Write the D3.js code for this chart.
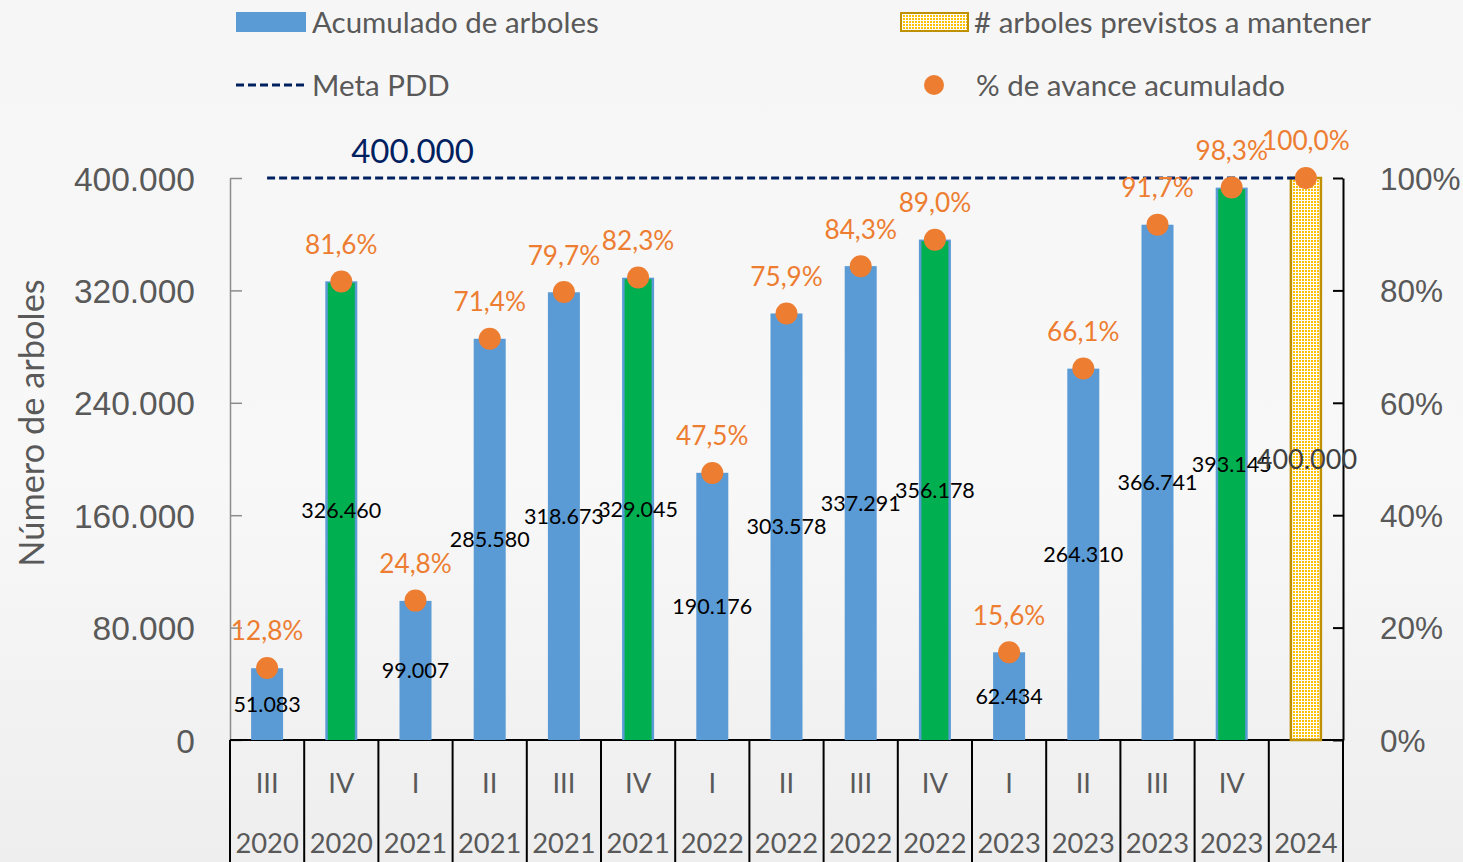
<!DOCTYPE html>
<html><head><meta charset="utf-8">
<script src="https://cdn.jsdelivr.net/npm/d3@7"></script>
<style>
html,body{margin:0;padding:0;background:#f4f4f4;}
svg{display:block;font-family:Lato,"Open Sans",sans-serif;}
</style></head>
<body>
<svg id="chart" width="1463" height="862"></svg>
<script>
// ---- data ----
const quarters = ["III","IV","I","II","III","IV","I","II","III","IV","I","II","III","IV",""];
const years = ["2020","2020","2021","2021","2021","2021","2022","2022","2022","2022","2023","2023","2023","2023","2024"];
const acumulado = [51083,326460,99007,285580,318673,329045,190176,303578,337291,356178,62434,264310,366741,393145,null];
const previstos = [null,null,null,null,null,null,null,null,null,null,null,null,null,null,400000];
const avance = [0.128,0.816,0.248,0.714,0.797,0.823,0.475,0.759,0.843,0.890,0.156,0.661,0.917,0.983,1.000];
const meta = [400000,400000,400000,400000,400000,400000,400000,400000,400000,400000,400000,400000,400000,400000,400000];
const leftTicks = [0,80000,160000,240000,320000,400000];
const rightTicks = [0,0.2,0.4,0.6,0.8,1.0];
const metaLabel = "400.000";
const metaLabelIndex = 2;
const legendLabels = ["Acumulado de arboles","# arboles previstos a mantener","Meta PDD","% de avance acumulado"];
const yTitle = "Número de arboles";

// ---- style ----
const C = {blue:"#5B9BD5", green:"#00B050", orange:"#ED7D31", navy:"#002060", gold:"#BF9000", yellow:"#FFC000", text:"#595959"};
const svg = d3.select("#chart");
const W = 1463, H = 862;
const plot = {left:230, right:1343, top:178, bottom:740};

const loc = d3.formatLocale({decimal:",", thousands:".", grouping:[3], currency:["",""]});
const fmtN = loc.format(",d");
const fmtP = v => loc.format(".1f")(v*100) + "%";

// background
const defs = svg.append("defs");
const bg = defs.append("linearGradient").attr("id","bg").attr("x1",0).attr("y1",0).attr("x2",0).attr("y2",1);
bg.append("stop").attr("offset","0%").attr("stop-color","#f6f6f6");
bg.append("stop").attr("offset","55%").attr("stop-color","#f8f8f8");
bg.append("stop").attr("offset","100%").attr("stop-color","#eeeeee");
svg.append("rect").attr("width",W).attr("height",H).attr("fill","url(#bg)");

const pat = defs.append("pattern").attr("id","dots").attr("patternUnits","userSpaceOnUse").attr("width",3).attr("height",3);
pat.append("rect").attr("width",3).attr("height",3).attr("fill","#ffffff");
pat.append("rect").attr("width",2).attr("height",2).attr("fill",C.yellow);

// scales
const idx = d3.range(quarters.length);
const x = d3.scaleBand().domain(idx).range([plot.left, plot.right]).padding(0);
const cx = i => x(i) + x.bandwidth()/2;
const yL = d3.scaleLinear().domain([0,400000]).range([plot.bottom, plot.top]);
const yR = d3.scaleLinear().domain([0,1]).range([plot.bottom, plot.top]);
const barW = 32;

// left axis
const gL = svg.append("g").attr("transform",`translate(${plot.left},0)`)
  .call(d3.axisLeft(yL).tickValues(leftTicks).tickFormat(fmtN).tickSize(-12).tickSizeOuter(0).tickPadding(35));
gL.select(".domain").attr("stroke","#8c8c8c").attr("stroke-width",1.5);
gL.selectAll(".tick line").attr("stroke","#8c8c8c").attr("stroke-width",1.5);
gL.selectAll(".tick text").attr("fill",C.text).attr("font-size",33.5).attr("dy","0.36em");

// right axis
const gR = svg.append("g").attr("transform",`translate(${plot.right},0)`)
  .call(d3.axisRight(yR).tickValues(rightTicks).tickFormat(d3.format(".0%")).tickSize(-10).tickSizeOuter(0).tickPadding(37));
gR.select(".domain").attr("stroke","#000").attr("stroke-width",2);
gR.selectAll(".tick line").attr("stroke","#000").attr("stroke-width",2);
gR.selectAll(".tick text").attr("fill",C.text).attr("font-size",31.5).attr("dy","0.36em");

// y title
svg.append("text").attr("transform",`translate(44,${(plot.top+plot.bottom)/2 - 36}) rotate(-90)`)
  .attr("text-anchor","middle").attr("fill",C.text).attr("font-size",34.4).text(yTitle);

// category axis (two-level)
const gX = svg.append("g");
gX.append("line").attr("x1",plot.left).attr("x2",plot.right).attr("y1",plot.bottom).attr("y2",plot.bottom).attr("stroke","#000").attr("stroke-width",2);
gX.selectAll("line.sep").data(d3.range(quarters.length+1)).join("line").attr("class","sep")
  .attr("x1",i => i < quarters.length ? x(i) : plot.right).attr("x2",i => i < quarters.length ? x(i) : plot.right)
  .attr("y1",plot.bottom).attr("y2",H).attr("stroke","#000").attr("stroke-width",2);
gX.selectAll("text.q").data(idx).join("text").attr("class","q")
  .attr("x",cx).attr("y",783).attr("dy","0.36em").attr("text-anchor","middle")
  .attr("fill",C.text).attr("font-size",27.3).text(i => quarters[i]);
gX.selectAll("text.yr").data(idx).join("text").attr("class","yr")
  .attr("x",cx).attr("y",843).attr("dy","0.36em").attr("text-anchor","middle")
  .attr("fill",C.text).attr("font-size",27.3).text(i => years[i]);

// bars: acumulado
const acc = idx.filter(i => acumulado[i] != null);
svg.selectAll("rect.acc").data(acc).join("rect").attr("class","acc")
  .attr("x",i => cx(i)-barW/2).attr("width",barW)
  .attr("y",i => yL(acumulado[i])).attr("height",i => yL(0)-yL(acumulado[i]))
  .attr("fill",C.blue);
// year-end (IV) highlight
const hi = acc.filter(i => quarters[i] === "IV");
svg.selectAll("rect.hi").data(hi).join("rect").attr("class","hi")
  .attr("x",i => cx(i)-barW/2+2.5).attr("width",barW-5)
  .attr("y",i => yL(acumulado[i])+1.5).attr("height",i => yL(0)-yL(acumulado[i])-1.5)
  .attr("fill",C.green);

// previstos bar
const prev = idx.filter(i => previstos[i] != null);
svg.selectAll("rect.prev").data(prev).join("rect").attr("class","prev")
  .attr("x",i => cx(i)-15).attr("width",30)
  .attr("y",i => yL(previstos[i])).attr("height",i => yL(0)-yL(previstos[i]))
  .attr("fill","url(#dots)").attr("stroke",C.gold).attr("stroke-width",2.5);

// bar labels
svg.selectAll("text.accl").data(acc).join("text").attr("class","accl")
  .attr("x",cx).attr("y",i => (yL(acumulado[i])+yL(0))/2).attr("dy","0.36em")
  .attr("text-anchor","middle").attr("fill","#000").attr("font-size",21.5)
  .text(i => fmtN(acumulado[i]));
svg.selectAll("text.prevl").data(prev).join("text").attr("class","prevl")
  .attr("x",i => cx(i)+1).attr("y",i => (yL(previstos[i])+yL(0))/2).attr("dy","0.36em")
  .attr("text-anchor","middle").attr("fill","#404040").attr("font-size",27)
  .text(i => fmtN(previstos[i]));

// meta line
const line = d3.line().x(i => cx(i)).y(i => yL(meta[i]));
svg.append("path").datum(idx).attr("d",line).attr("fill","none")
  .attr("stroke",C.navy).attr("stroke-width",3).attr("stroke-dasharray","8,4");
svg.append("text").attr("x",cx(metaLabelIndex)-3).attr("y",yL(meta[metaLabelIndex])-27).attr("dy","0.36em")
  .attr("text-anchor","middle").attr("fill",C.navy).attr("font-size",33).text(metaLabel);

// avance dots
svg.selectAll("circle.av").data(idx).join("circle").attr("class","av")
  .attr("cx",cx).attr("cy",i => yR(avance[i])).attr("r",11).attr("fill",C.orange);
svg.selectAll("text.avl").data(idx).join("text").attr("class","avl")
  .attr("x",cx).attr("y",i => yR(avance[i])-37).attr("dy","0.36em")
  .attr("text-anchor","middle").attr("fill",C.orange).attr("font-size",26.2)
  .text(i => fmtP(avance[i]));

// legend
const lg = svg.append("g");
lg.append("rect").attr("x",236).attr("y",12).attr("width",70).attr("height",20).attr("fill",C.blue);
lg.append("text").attr("x",312).attr("y",22).attr("dy","0.36em").attr("fill",C.text).attr("font-size",29.5).text(legendLabels[0]);
lg.append("rect").attr("x",901).attr("y",13).attr("width",67).attr("height",18).attr("fill","url(#dots)").attr("stroke",C.gold).attr("stroke-width",2);
lg.append("text").attr("x",974).attr("y",22).attr("dy","0.36em").attr("fill",C.text).attr("font-size",29.5).text(legendLabels[1]);
lg.append("line").attr("x1",236).attr("x2",306).attr("y1",85).attr("y2",85).attr("stroke",C.navy).attr("stroke-width",3).attr("stroke-dasharray","8,4");
lg.append("text").attr("x",312).attr("y",85).attr("dy","0.36em").attr("fill",C.text).attr("font-size",29.5).text(legendLabels[2]);
lg.append("circle").attr("cx",934).attr("cy",85).attr("r",10).attr("fill",C.orange);
lg.append("text").attr("x",976).attr("y",85).attr("dy","0.36em").attr("fill",C.text).attr("font-size",29.5).text(legendLabels[3]);
</script>
</body></html>
